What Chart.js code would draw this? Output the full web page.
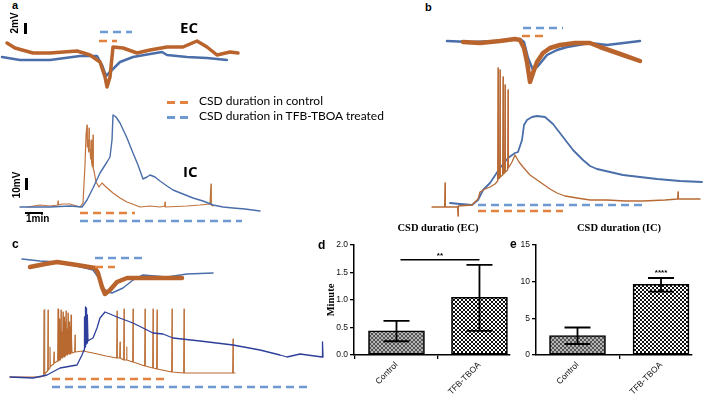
<!DOCTYPE html>
<html><head><meta charset="utf-8">
<script src="https://cdn.jsdelivr.net/npm/chart.js@4.4.1/dist/chart.umd.min.js"></script>
<style>
html,body{margin:0;padding:0;background:#fff;}
#wrap{position:relative;width:705px;height:398px;overflow:hidden;font-family:'Liberation Sans',Arial,sans-serif;}
canvas{position:absolute;}
.t{position:absolute;white-space:nowrap;color:#000;line-height:1;}
.b{font-weight:bold;}
.sw{position:absolute;height:2.5px;}
.bar{position:absolute;background:#000;}
</style></head><body><div id="wrap">
<canvas id="pa" width="270" height="215" style="left:0;top:15px"></canvas>
<canvas id="pb" width="285" height="210" style="left:420px;top:15px"></canvas>
<canvas id="pc" width="335" height="150" style="left:0;top:245px"></canvas>
<canvas id="pd" width="200" height="163" style="left:317px;top:235px"></canvas>
<canvas id="pe" width="205" height="163" style="left:500px;top:235px"></canvas>

<div class="t b" style="left:12px;top:0;font-size:11px">a</div>
<div class="t b" style="left:425px;top:2px;font-size:11px">b</div>
<div class="t b" style="left:12px;top:238px;font-size:12px">c</div>
<div class="t b" style="left:318px;top:239px;font-size:12px">d</div>
<div class="t b" style="left:510px;top:238px;font-size:12px">e</div>

<div class="t b" style="left:15px;top:23px;font-size:10px;transform:translate(-50%,-50%) rotate(-90deg)">2mV</div>
<div class="bar" style="left:24px;top:23px;width:2.5px;height:11px"></div>
<div class="t b" style="left:180px;top:20px;font-size:15px;font-family:'Open Sans',sans-serif">EC</div>

<div class="sw" style="left:167px;top:101px;width:24px;background:repeating-linear-gradient(90deg,#E3823F 0 8px,transparent 8px 13px)"></div>
<div class="t" style="left:199px;top:95px;font-size:12px;font-family:Lato,sans-serif">CSD duration in control</div>
<div class="sw" style="left:167px;top:116px;width:24px;background:repeating-linear-gradient(90deg,#6E9AD3 0 8px,transparent 8px 13px)"></div>
<div class="t" style="left:199px;top:110px;font-size:12px;font-family:Lato,sans-serif">CSD duration in TFB-TBOA treated</div>

<div class="t b" style="left:183px;top:164px;font-size:15px;font-family:'Open Sans',sans-serif">IC</div>
<div class="t b" style="left:17px;top:185px;font-size:10px;transform:translate(-50%,-50%) rotate(-90deg)">10mV</div>
<div class="bar" style="left:25px;top:178px;width:2.5px;height:12px"></div>
<div class="bar" style="left:25px;top:212px;width:18px;height:2px"></div>
<div class="t b" style="left:26px;top:214px;font-size:10px">1min</div>

<div class="t b" style="left:438px;top:228px;font-size:10.5px;font-family:'Liberation Serif',serif;transform:translate(-50%,-50%)">CSD duratio (EC)</div>
<div class="t b" style="left:619px;top:228px;font-size:10.5px;font-family:'Liberation Serif',serif;transform:translate(-50%,-50%)">CSD duration (IC)</div>
</div>
<script>
// ---------- Trace data: [time (s), potential (mV, relative to baseline)] ----------
// Panel a — EC
const aEC_ctrl = [[21,1.75],[45,0.5],[99,-0.75],[150,-0.75],[231,-0.25],[270,-1.25],[300,-3],[315,-6.75],[321,-9.25],[330,-6.75],[339,0.75],[369,0.5],[411,-0.75],[450,0],[501,0.75],[549,0.75],[591,2.25],[621,0.75],[651,-1.25],[690,-0.5],[714,-0.75]];
const aEC_tfb  = [[6,-1.75],[60,-2.5],[150,-2.5],[240,-1.5],[291,-1.5],[306,-3.75],[318,-6.5],[330,-5.5],[360,-3],[399,-1.75],[450,-1],[486,-0.5],[501,-1.25],[561,-1.75],[621,-2],[681,-2.5]];
// Panel a — IC
const aIC_ctrl = [[84,0],[120,2],[150,1],[173,2],[174,6],[175,2],[186,3],[210,3],[240,0],[249,4],[255,42],[258,72],[261,82],[262,60],[264,67],[266,55],[267,79],[268,58],[270,57],[272,48],[273,67],[275,44],[276,42],[278,40],[279,72],[280,38],[282,36],[288,25],[297,20],[306,24],[315,21],[339,14],[360,9],[381,5],[405,2],[420,0],[450,1],[480,0],[494,1],[495,5],[496,0],[561,1],[600,2],[630,3],[632,3],[633,23],[634,2],[639,1]];
const aIC_tfb  = [[60,0],[150,0],[210,1],[246,0],[261,7],[279,19],[300,34],[321,45],[330,50],[336,67],[339,92],[348,90],[360,84],[381,69],[399,54],[414,42],[429,28],[441,30],[450,32],[465,30],[480,26],[501,21],[519,17],[549,13],[579,9],[609,6],[639,2],[669,0],[699,-1],[735,-2],[780,-4]];
// Panel b — EC
const bEC_ctrl = [[129,-0.25],[180,-0.5],[240,0],[285,0.5],[300,0.25],[312,-1.75],[321,-5.25],[330,-10.25],[339,-8],[351,-5.25],[369,-3],[390,-1.75],[420,-1],[465,-0.5],[510,-0.5],[540,-1.5],[609,-3.5],[660,-5]];
const bEC_tfb  = [[81,0],[150,-0.25],[240,0],[300,0.5],[312,-0.25],[324,-4.25],[339,-7.25],[354,-6.25],[381,-3.5],[411,-2.25],[441,-1.5],[510,-0.5],[561,-1],[660,0]];
// Panel b — IC
const bIC_ctrl = [[36,-1],[74,-1],[75,23],[76,-1],[113,-1],[114,-10],[115,0],[156,1],[174,7],[180,14],[195,17],[210,19],[225,22],[233,25],[234,138],[235,27],[239,28],[240,136],[241,29],[248,31],[249,129],[250,32],[254,33],[255,121],[256,34],[263,36],[264,116],[265,38],[276,44],[285,51],[297,44],[309,39],[330,31],[360,24],[390,17],[411,13],[435,10],[471,8],[510,6],[561,6],[615,5],[669,5],[735,6],[773,7],[774,14],[775,7],[840,7]];
const bIC_tfb  = [[90,3],[120,2],[156,1],[174,6],[189,16],[210,23],[240,38],[264,48],[285,53],[294,54],[306,66],[312,81],[321,86],[336,89],[351,90],[375,89],[399,82],[429,69],[459,56],[489,46],[510,40],[531,37],[570,34],[609,31],[660,29],[711,27],[780,25],[846,24]];
// Panel c — EC
const cEC_ctrl = [[90,0.75],[135,1.5],[171,2],[231,1.25],[285,0.5],[294,-0.75],[306,-4.25],[315,-6],[330,-5],[351,-3],[381,-2],[450,-2],[546,-2]];
const cEC_tfb  = [[66,2.75],[120,2.25],[171,2],[231,1],[279,0],[294,-1.75],[309,-4.5],[324,-5.5],[336,-5.75],[369,-4.5],[399,-2.5],[429,-1.25],[501,-1.75],[561,-1],[639,-0.75]];
// Panel c — IC
const cIC_ctrl = [[30,0],[120,0],[131,1],[132,67],[133,3],[143,6],[144,67],[145,7],[149,9],[150,30],[151,10],[156,12],[161,13],[162,25],[163,14],[168,15],[173,16],[174,68],[175,16],[176,50],[177,17],[178,58],[179,17],[180,40],[181,17],[182,18],[183,67],[184,19],[186,45],[187,19],[188,19],[189,65],[190,20],[192,60],[193,20],[194,20],[195,55],[196,21],[197,21],[198,66],[199,22],[201,48],[202,22],[203,22],[204,64],[205,23],[207,55],[208,23],[209,23],[210,50],[211,23],[212,23],[213,62],[214,24],[215,40],[216,24],[224,25],[225,42],[226,25],[249,26],[279,24],[318,21],[350,19],[351,66],[352,19],[359,19],[360,35],[361,19],[371,17],[372,68],[373,17],[379,17],[380,30],[381,17],[398,15],[399,68],[400,15],[434,11],[435,68],[436,11],[458,9],[459,68],[460,9],[470,8],[471,67],[472,8],[515,5],[516,68],[517,5],[551,4],[552,68],[553,4],[600,4],[698,4],[699,38],[700,4],[705,4]];
const cIC_tfb  = [[30,0],[99,-1],[141,2],[180,9],[231,12],[246,22],[252,27],[253,28],[254,60],[255,30],[256,70],[257,31],[258,69],[259,33],[260,66],[261,34],[262,62],[264,36],[268,37],[279,39],[291,49],[300,59],[315,65],[330,63],[351,60],[399,54],[459,44],[489,43],[519,39],[600,36],[699,32],[780,27],[840,22],[861,20],[900,23],[966,20],[967,20],[968,35],[969,20]];
const cIC_artifact = [[135,0],[135,68]];

// ---------- CSD durations [start, end] (s) ----------
const aEC_durCtrl = [297,351], aEC_durTfb = [300,396];
const aIC_durCtrl = [240,405], aIC_durTfb = [240,726];
const bEC_durCtrl = [306,369], bEC_durTfb = [309,429];
const bIC_durCtrl = [174,429], bIC_durTfb = [174,666];
const cEC_durCtrl = [285,345], cEC_durTfb = [285,435];
const cIC_durCtrl = [156,504], cIC_durTfb = [156,924];

// ---------- Bar data ----------
const barCats = ['Control','TFB-TBOA'];
const ecMean = [0.44,1.05], ecLo = [0.25,0.44], ecHi = [0.62,1.64];
const icMean = [2.65,9.65], icLo = [1.5,8.65], icHi = [3.75,10.5];
const dTicks = [0,0.5,1.0,1.5,2.0], eTicks = [0,5,10,15];

// ---------- styling ----------
const ORANGE='#BA642D', BLUE='#4A6EA9', NAVY='#2D3F9B', DORANGE='#E3823F', DBLUE='#6E9AD3';
function pts(a){return a.map(p=>({x:p[0],y:p[1]}));}
function trace(d,axis,color,w){return {data:pts(d),yAxisID:axis,borderColor:color,borderWidth:w,pointRadius:0,tension:0,fill:false,borderJoinStyle:'round',borderCapStyle:'round'};}
function dash(r,level,axis,color){return {data:[{x:r[0],y:level},{x:r[1],y:level}],yAxisID:axis,borderColor:color,borderWidth:2.5,borderDash:[8,5],pointRadius:0,fill:false,borderCapStyle:'butt'};}
function traceChart(id,xr,ecr,icr,datasets){
  new Chart(document.getElementById(id),{type:'line',data:{datasets},
    options:{responsive:false,animation:false,devicePixelRatio:1,events:[],layout:{padding:0},
      plugins:{legend:{display:false},tooltip:{enabled:false}},
      scales:{x:{type:'linear',display:false,min:xr[0],max:xr[1]},
              ec:{type:'linear',display:false,min:ecr[0],max:ecr[1]},
              ic:{type:'linear',display:false,min:icr[0],max:icr[1]}}}});
}

traceChart('pa',[0,810],[-45,8.75],[-23,192],[
  dash(aEC_durTfb,4.5,'ec',DBLUE), dash(aEC_durCtrl,2.25,'ec',DORANGE),
  dash(aIC_durCtrl,-6,'ic',DORANGE), dash(aIC_durTfb,-14,'ic',DBLUE),
  trace(aEC_ctrl,'ec',ORANGE,3.5), trace(aEC_tfb,'ec',BLUE,2.5),
  trace(aIC_tfb,'ic',BLUE,1.4), trace(aIC_ctrl,'ic','#C0733D',1.2)
]);
traceChart('pb',[0,855],[-46,6.5],[-19,191],[
  dash(bEC_durTfb,3.25,'ec',DBLUE), dash(bEC_durCtrl,1.25,'ec',DORANGE),
  dash(bIC_durTfb,1,'ic',DBLUE), dash(bIC_durCtrl,-5,'ic',DORANGE),
  trace(bEC_ctrl,'ec',ORANGE,4.5), trace(bEC_tfb,'ec',BLUE,2.5),
  trace(bIC_ctrl,'ic','#B86A35',1.3), trace(bIC_tfb,'ic',BLUE,1.8)
]);
traceChart('pc',[0,1005],[-31.25,6.25],[-18,132],[
  dash(cEC_durTfb,3,'ec',DBLUE), dash(cEC_durCtrl,0.75,'ec',DORANGE),
  dash(cIC_durCtrl,-2,'ic',DORANGE), dash(cIC_durTfb,-10,'ic',DBLUE),
  trace(cEC_ctrl,'ec',ORANGE,4.5), trace(cEC_tfb,'ec',BLUE,1.5),
  trace(cIC_tfb,'ic',NAVY,1.3), trace(cIC_ctrl,'ic','#B8692F',1.1),
  trace(cIC_artifact,'ic','#C8C8C8',1.2)
]);

// ---------- bar charts ----------
function checker(c1,c2,s){const cv=document.createElement('canvas');cv.width=cv.height=2*s;const g=cv.getContext('2d');
  g.fillStyle=c1;g.fillRect(0,0,2*s,2*s);g.fillStyle=c2;g.fillRect(0,0,s,s);g.fillRect(s,s,s,s);return g.createPattern(cv,'repeat');}
const patCtrl = checker('#b4b4b4','#555555',2);
const patTfb = checker('#ffffff','#111111',2);

const errPlugin={id:'errbars',afterDatasetsDraw(chart,args,o){
  const ctx=chart.ctx, meta=chart.getDatasetMeta(0), y=chart.scales.y, x=chart.scales.x;
  ctx.save();ctx.strokeStyle='#000';ctx.lineWidth=1.8;
  meta.data.forEach((bar,i)=>{const lo=y.getPixelForValue(o.lo[i]),hi=y.getPixelForValue(o.hi[i]);
    ctx.beginPath();ctx.moveTo(bar.x,lo);ctx.lineTo(bar.x,hi);
    ctx.moveTo(bar.x-13,lo);ctx.lineTo(bar.x+13,lo);ctx.moveTo(bar.x-13,hi);ctx.lineTo(bar.x+13,hi);ctx.stroke();});
  if(o.sig){const yy=y.getPixelForValue(o.sig.level);
    let xm;
    if(o.sig.line){const x0=x.getPixelForValue(o.sig.from)+4,x1=x.getPixelForValue(o.sig.to);
      ctx.lineWidth=1.5;ctx.beginPath();ctx.moveTo(x0,yy);ctx.lineTo(x1,yy);ctx.stroke();xm=(x0+x1)/2;}
    else xm=x.getPixelForValue(o.sig.to);
    ctx.fillStyle='#000';ctx.font='bold 8px "Liberation Sans"';ctx.textAlign='center';ctx.textBaseline='middle';
    ctx.fillText(o.sig.text,xm,yy-(o.sig.line?4:5));}
  ctx.restore();}};

function barChart(id,mean,lo,hi,ticks,fmt,xr,yw,padR,sig,title){
  new Chart(document.getElementById(id),{type:'bar',
    data:{datasets:[{data:mean.map((v,i)=>({x:i,y:v})),backgroundColor:[patCtrl,patTfb],borderColor:'#000',borderWidth:1.6,borderSkipped:false,barThickness:56}]},
    options:{responsive:false,animation:false,devicePixelRatio:1,events:[],
      layout:{padding:{top:10,right:padR,left:0,bottom:0}},
      plugins:{legend:{display:false},tooltip:{enabled:false},errbars:{lo,hi,sig}},
      scales:{
        x:{type:'linear',min:xr[0],max:xr[1],offset:false,
           afterBuildTicks:s=>{s.ticks=[{value:0},{value:1}];},
           ticks:{callback:v=>barCats[v],minRotation:45,maxRotation:45,autoSkip:false,font:{family:'Liberation Sans',size:8.5},color:'#111',padding:1},
           grid:{display:true,drawOnChartArea:false,drawTicks:true,tickLength:4,color:'#000',lineWidth:1.3},
           border:{display:true,color:'#000',width:1.5},
           afterFit:s=>{s.height=43;}},
        y:{type:'linear',min:ticks[0],max:ticks[ticks.length-1],
           afterBuildTicks:s=>{s.ticks=ticks.map(v=>({value:v}));},
           ticks:{callback:fmt,font:{family:'Liberation Sans',size:8.5},color:'#111',padding:2},
           grid:{display:true,drawOnChartArea:false,drawTicks:true,tickLength:4,color:'#000',lineWidth:1.3},
           border:{display:true,color:'#000',width:1.5},
           title:title,
           afterFit:s=>{s.width=yw;}}}},
    plugins:[errPlugin]});
}
barChart('pd',ecMean,ecLo,ecHi,dTicks,v=>v.toFixed(1),[-0.512,1.368],37,7,
  {line:true,from:0,to:1,level:1.73,text:'**'},
  {display:true,text:'Minute',color:'#000',font:{family:'Liberation Serif',weight:'bold',size:10.5},padding:{top:8,bottom:0}});
barChart('pe',icMean,icLo,icHi,eTicks,v=>String(v),[-0.497,1.371],36,13,
  {line:false,to:1,level:10.5,text:'****'},{display:false});
</script>
</body></html>
